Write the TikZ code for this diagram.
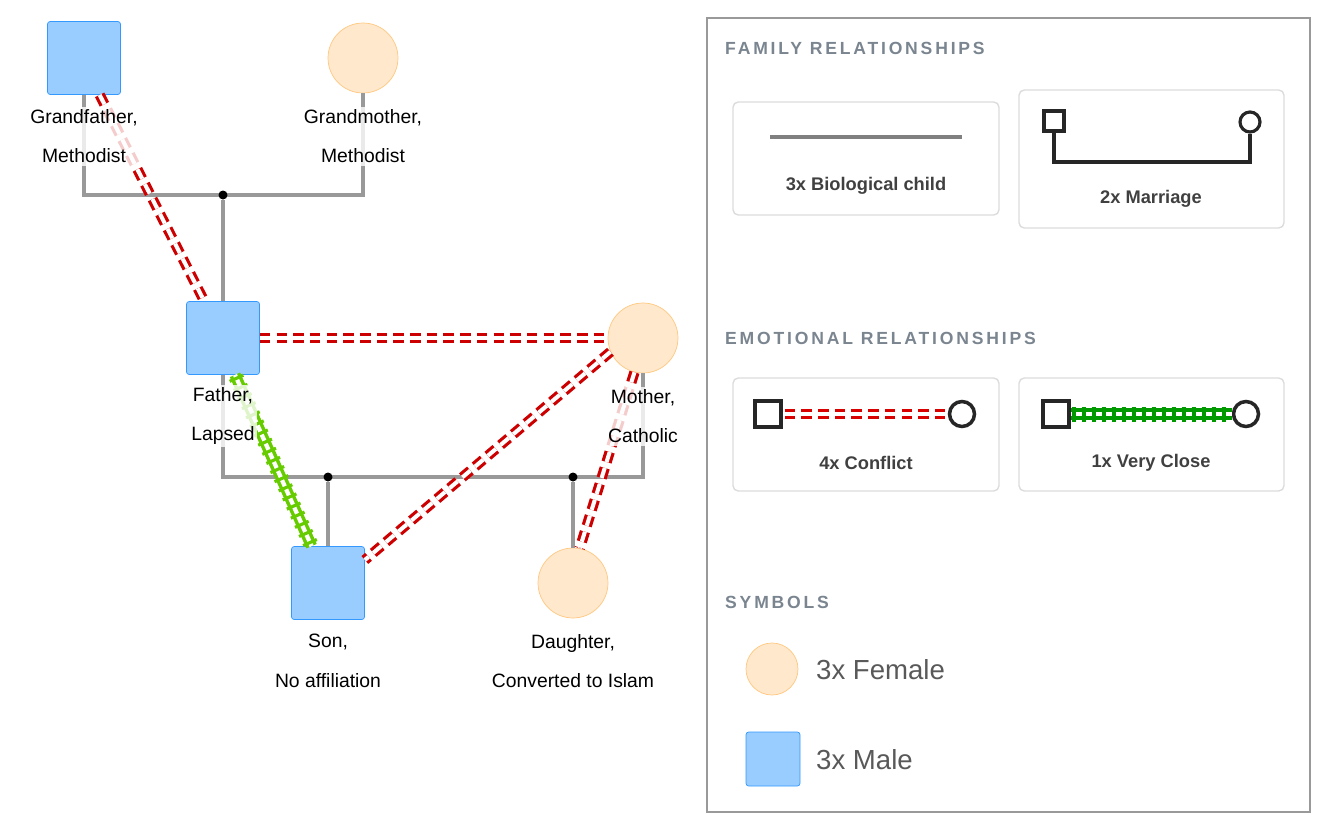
\documentclass[tikz,border=0pt]{standalone}
\usepackage{fontspec}
\setmainfont{Liberation Sans}
\usetikzlibrary{decorations.markings}
\definecolor{malefill}{RGB}{153,204,255}
\definecolor{maledraw}{RGB}{51,153,255}
\definecolor{femfill}{RGB}{255,232,204}
\definecolor{femdraw}{RGB}{255,200,128}
\definecolor{conflictred}{RGB}{204,0,0}
\definecolor{closegreen}{RGB}{102,204,0}
\definecolor{headgray}{RGB}{122,133,144}
\definecolor{cardgray}{RGB}{220,220,220}
\tikzset{
  male/.style={rectangle,rounded corners=1.5pt,fill=malefill,draw=maledraw,minimum size=1.46cm},
  female/.style={circle,fill=femfill,draw=femdraw,minimum size=1.4cm,inner sep=0pt},
  lbl/.style={align=center,font=\fontsize{11}{12}\selectfont,fill=white,fill opacity=0.8,text opacity=1,inner sep=1.5pt},
  child/.style={draw=gray!80,line width=1.9pt},
  dot/.style={circle,fill=black,inner sep=0pt,minimum size=0.18cm},
  conflict/.style={draw=conflictred,line width=1.8pt,double=white,double distance=2.3pt,dash pattern=on 6pt off 3.5pt},
  veryclose/.style={draw=#1,line width=2pt,double=white,double distance=2.4pt,
    postaction={decorate,decoration={markings,mark=between positions 0.02 and 0.98 step 0.2cm with {\draw[#1,line width=1.8pt] (0,-0.15cm) -- (0,0.15cm);}}}},
  heading/.style={anchor=west,text=headgray,font=\fontsize{10}{12}\selectfont\bfseries\addfontfeature{LetterSpace=16}},
  card/.style={draw=cardgray,line width=0.8pt,rounded corners=3pt},
  cardtxt/.style={text=black!75,font=\fontsize{10.4}{12}\selectfont\bfseries},
  symtxt/.style={anchor=west,text=black!65,font=\fontsize{15.7}{17}\selectfont},
}
\begin{document}
\begin{tikzpicture}[x=0.02cm,y=-0.02cm]
\useasboundingbox (0,0) rectangle (1329,832);

% people
\node[male] (gf) at (84,58) {};
\node[female] (gm) at (363,58) {};
\node[male] (fa) at (223,338) {};
\node[female] (mo) at (643,338) {};
\node[male] (so) at (328,583) {};
\node[female] (da) at (573,583) {};

% family lines
\draw[child] (gf.south) -- ++(0,100) -| (gm.south);
\node[dot] (m1) at (223,195) {};
\draw[child] (m1) -- (fa.north);
\draw[child] (fa.south) -- ++(0,102) -| (mo.south);
\node[dot] (m2) at (328,477) {};
\node[dot] (m3) at (573,477) {};
\draw[child] (m2) -- (so.north);
\draw[child] (m3) -- (da.north);

% emotional lines
\draw[conflict] (gf.-67) -- (fa.117);
\draw[conflict] (fa.east) -- (mo.west);
\draw[conflict] (mo.203) -- (so.32);
\draw[conflict] (mo.-104) -- (da.79);
\draw[veryclose=closegreen] (fa.-72) -- (so.114);

% labels
\node[lbl] (gfl) at (84,136) {Grandfather,\\[10.5pt]Methodist};
\node[lbl] (gml) at (363,136) {Grandmother,\\[10.5pt]Methodist};
\node[lbl] (fal) at (223,416) {Father,\\[10.5pt]Lapsed};
\node[lbl] (mol) at (643,416) {Mother,\\[10.5pt]Catholic};
\node[lbl] (sol) at (328,661) {Son,\\[10.5pt]No affiliation};
\node[lbl] (dal) at (573,661) {Daughter,\\[10.5pt]Converted to Islam};

% legend
\draw[gray!80,line width=1.2pt] (707,18) rectangle (1310,812);
\node[heading] (h1) at (719,48) {FAMILY RELATIONSHIPS};
\node[heading] (h2) at (719,338) {EMOTIONAL RELATIONSHIPS};
\node[heading] (h3) at (719,602) {SYMBOLS};

\draw[card] (733,102) rectangle (999,215);
\draw[gray,line width=2.3pt] (770,137) -- (962,137);
\node[cardtxt] (c1) at (866,186) {3x Biological child};

\draw[card] (1019,90) rectangle (1284,228);
\node[draw=black!85,line width=1.8pt,minimum size=0.4cm,inner sep=0pt] (ms) at (1054,121) {};
\node[draw=black!85,line width=1.8pt,circle,minimum size=0.4cm,inner sep=0pt] (mf) at (1250,122) {};
\draw[black!85,line width=1.8pt] (ms.south) |- (1150,162) -| (mf.south);
\node[cardtxt] (c2) at (1151,199) {2x Marriage};

\draw[card] (733,378) rectangle (999,491);
\draw[conflict,draw=red!85!black] (768,414) -- (962,414);
\node[draw=black!85,line width=2pt,fill=white,minimum size=0.52cm,inner sep=0pt] (cs) at (768,414) {};
\node[draw=black!85,line width=2pt,fill=white,circle,minimum size=0.5cm,inner sep=0pt] (cf) at (962,414) {};
\node[cardtxt] (c3) at (866,463) {4x Conflict};

\draw[card] (1019,378) rectangle (1284,491);
\node[draw=black!85,line width=2pt,fill=white,minimum size=0.52cm,inner sep=0pt] (vs) at (1056,414) {};
\node[draw=black!85,line width=2pt,fill=white,circle,minimum size=0.5cm,inner sep=0pt] (vf) at (1246,414) {};
\draw[veryclose=green!60!black] (vs.east) -- (vf.west);
\node[cardtxt] (c4) at (1151,463) {1x Very Close};

\node[female,minimum size=1.04cm] (sf) at (772,669) {};
\node[symtxt] (sft) at (810,670) {3x Female};
\node[male,minimum size=1.08cm] (sm) at (773,759) {};
\node[symtxt] (smt) at (810,760) {3x Male};
\end{tikzpicture}
\end{document}
